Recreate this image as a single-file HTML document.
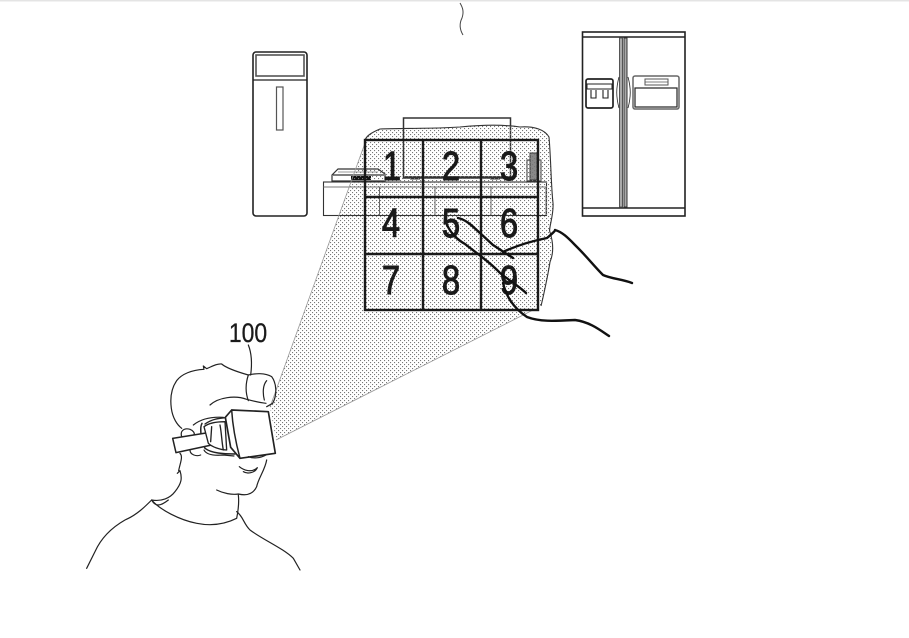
<!DOCTYPE html>
<html><head><meta charset="utf-8"><style>
html,body{margin:0;padding:0;background:#fff;width:909px;height:638px;overflow:hidden}
svg{display:block}
text{font-family:"Liberation Sans",sans-serif;fill:#1a1a1a;stroke:#1a1a1a}
</style></head><body>
<svg width="909" height="638" viewBox="0 0 909 638" xmlns="http://www.w3.org/2000/svg">
<defs>
<pattern id="d" width="4" height="4" patternUnits="userSpaceOnUse">
<rect x="0" y="0" width="1.1" height="1.1" fill="#777"/><rect x="2" y="2" width="1.1" height="1.1" fill="#777"/>
</pattern>
</defs>
<rect width="909" height="638" fill="#fff"/>
<rect width="909" height="1.5" fill="#e4e4e4"/>
<path d="M460 3C463 8 464 12 462 18C459 24 460 30 463 35" fill="none" stroke="#444" stroke-width="1"/>

<!-- left appliance -->
<g fill="none" stroke="#222">
<rect x="253" y="52" width="54" height="164" rx="3" stroke-width="1.6"/>
<rect x="256" y="55" width="48" height="21" stroke="#555" stroke-width="1.6"/>
<line x1="253" y1="80" x2="307" y2="80" stroke-width="1.2"/>
<rect x="276.500" y="87" width="6.500" height="43" stroke="#555" stroke-width="1.2"/>
</g>

<!-- fridge -->
<g fill="none" stroke="#222">
<rect x="582.500" y="32" width="102.500" height="184" stroke-width="1.6"/>
<line x1="582.500" y1="37" x2="685" y2="37" stroke-width="1.6"/>
<line x1="582.500" y1="208" x2="685" y2="208" stroke-width="1.6"/>
<rect x="619.500" y="38" width="3" height="169" fill="#aaa" stroke="#555" stroke-width="1"/>
<rect x="624" y="38" width="3" height="169" fill="#aaa" stroke="#333" stroke-width="1"/>
<path d="M619 77C616 88 616 97 619 108M628 77C631 88 631 97 628 108" stroke-width=".8"/>
<rect x="586" y="79" width="27" height="29" rx="2" stroke-width="1.7"/>
<rect x="587" y="84" width="25" height="5" stroke-width="1"/>
<path d="M591 90V98H596V90M603 90V98H608V90" stroke-width="1.1"/>
<rect x="633" y="76" width="46" height="33" rx="2" stroke="#666" stroke-width="1.5"/>
<rect x="635" y="88" width="42" height="19" stroke-width="1.2"/>
<rect x="645" y="79" width="23" height="6" stroke="#555" stroke-width="1"/>
<line x1="645" y1="82" x2="668" y2="82" stroke="#555" stroke-width=".7"/>
</g>

<!-- TV & furniture -->
<g fill="none" stroke="#333">
<rect x="403.500" y="118" width="107" height="60" stroke-width="1.5"/>
<line x1="403" y1="177" x2="510" y2="177" stroke-width="1.8"/>
<path d="M410 179H420M490 179H500" stroke-width="1"/>
<rect x="323.500" y="182" width="223" height="33.500" stroke-width="1.1"/>
<line x1="323.500" y1="187" x2="546" y2="187" stroke="#777" stroke-width="1.1"/>
<path d="M379.500 187V215M435 187V215M491 187V215M546 187V215" stroke="#666" stroke-width="1"/>
<path d="M332 181V175L338 169H378L385 174V181Z" stroke-width="1.2" fill="#fff"/>
<line x1="333" y1="175" x2="384" y2="175" stroke-width="1.2"/>
<line x1="338" y1="172" x2="378" y2="172" stroke="#777" stroke-width=".8"/>
<rect x="351" y="176" width="20" height="4" fill="#111" stroke="none"/>
<rect x="527" y="160" width="14" height="21" stroke-width="1"/>
<rect x="530" y="153" width="7" height="27" fill="#888" stroke-width="1"/>
</g>

<!-- dotted field -->
<path d="M276 440L270 407L365 143C367 135 373 132 380 129C400 128 430 129 460 127C480 125 500 124 520 127C535 126 545 130 549 137C551 160 551 185 553 203C554 215 548 230 550 232C554 245 553 255 550 262C548 275 543 298 541 306L533 310Z" fill="url(#d)"/>
<path d="M276 440L533 310" fill="none" stroke="#999" stroke-width=".8"/>
<path d="M270 407L365 143" fill="none" stroke="#999" stroke-width=".8"/>
<path d="M365 140C367 135 373 132 380 129C400 128 430 129 460 127C480 125 500 124 520 127C535 126 545 130 549 137C551 160 551 185 553 203C554 215 548 230 550 232C554 245 553 255 550 262C548 275 543 298 541 306" fill="none" stroke="#333" stroke-width="1.1"/>

<!-- grid -->
<g fill="none" stroke="#1a1a1a" stroke-width="2.400">
<rect x="365" y="140" width="173" height="170"/>
<path d="M423 140V310M481 140V310M365 197H538M365 254H538"/>
</g>
<g font-size="41" text-anchor="middle" stroke-width="1">
<text transform="translate(392,180) scale(.8,1)">1</text>
<text transform="translate(451,180) scale(.8,1)">2</text>
<text transform="translate(509,180) scale(.8,1)">3</text>
<text transform="translate(391,237) scale(.8,1)">4</text>
<text transform="translate(451,237) scale(.8,1)">5</text>
<text transform="translate(509,237) scale(.8,1)">6</text>
<text transform="translate(391,294) scale(.8,1)">7</text>
<text transform="translate(451,294) scale(.8,1)">8</text>
<text transform="translate(509,294) scale(.8,1)">9</text>
</g>

<!-- hand -->
<g fill="none" stroke="#111" stroke-width="2.400" stroke-linejoin="round" stroke-linecap="round">
<path d="M458 218C468 220 476 230 480 233L493 245L513 258"/>
<path d="M503 252C520 244 537 240 547 238C552 234 556 230 555 230C563 232 570 240 577 247C588 258 594 266 603 275C612 279 622 279 632 283"/>
<path d="M447 225C452 235 458 240 465 244C475 252 490 262 500 273C510 281 520 287 526 293"/>
<path d="M503 283C506 295 512 307 527 317C540 322 555 321 575 320C590 322 600 330 609 336"/>
</g>

<!-- person -->
<g transform="translate(80,310) scale(.33333)" fill="none" stroke="#222" stroke-width="3.600" stroke-linejoin="round" stroke-linecap="round">
<path d="M505 105C515 130 516 165 512 195"/>
<path d="M305 355C292 345 278 325 274 295C270 265 274 235 290 212C305 192 335 180 372 178L370 168L380 176C395 170 410 160 425 162C440 175 470 185 505 195C525 190 555 188 575 200C590 220 592 255 578 280L560 290"/>
<path d="M505 195C495 225 497 250 505 272"/>
<path d="M560 212C548 225 548 250 553 270"/>
<path d="M390 285C415 262 465 255 500 268C515 272 540 278 558 280"/>
<path d="M305 380C300 365 310 352 330 358C340 362 345 370 342 374"/>
<path d="M340 345C365 325 395 320 430 322"/>
<path d="M300 430C310 440 300 460 296 482M292 490L300 482C307 505 305 520 285 545C270 565 245 575 215 570C195 590 170 615 135 630C100 650 65 680 45 725L20 775"/>
<path d="M330 420C330 435 350 440 362 435"/>
<path d="M372 420C378 432 395 438 430 435L462 438"/>
<path d="M478 470C490 480 515 490 532 473C525 490 500 492 490 485"/>
<path d="M410 540C430 550 455 555 475 552C500 558 520 552 530 530C535 505 555 480 560 450"/>
<path d="M475 555C478 580 475 600 470 625C440 640 400 650 350 640C300 630 240 600 215 570"/>
<path d="M470 605C490 620 490 640 510 660C550 690 610 715 640 745L660 780"/>
<path d="M215 570C225 590 240 590 265 570"/>
<path d="M366 340C360 350 360 380 375 415C395 430 430 432 465 432" stroke-width="4.500"/>
<path d="M375 342C400 325 420 325 445 322" stroke-width="4"/>
<path d="M278 385L385 368L395 405L288 428Z" fill="#fff" stroke-width="4.500"/>
<path d="M372 350C385 340 410 335 435 335L440 420C420 420 395 410 385 400Z" fill="#fff" stroke-width="4"/>
<path d="M395 350L392 395M420 345C425 370 425 395 430 420" stroke-width="4"/>
<path d="M436 322L455 300L565 305L586 430L480 445L452 412Z" fill="#fff" stroke-width="5"/>
<path d="M455 300C458 350 468 400 480 445" stroke-width="4.500"/>
<path d="M505 440C520 446 540 445 558 435" stroke-width="3.600"/>
</g>
<text font-size="27" text-anchor="middle" stroke-width=".3" transform="translate(248,342) scale(.85,1)">100</text>
</svg>
</body></html>
